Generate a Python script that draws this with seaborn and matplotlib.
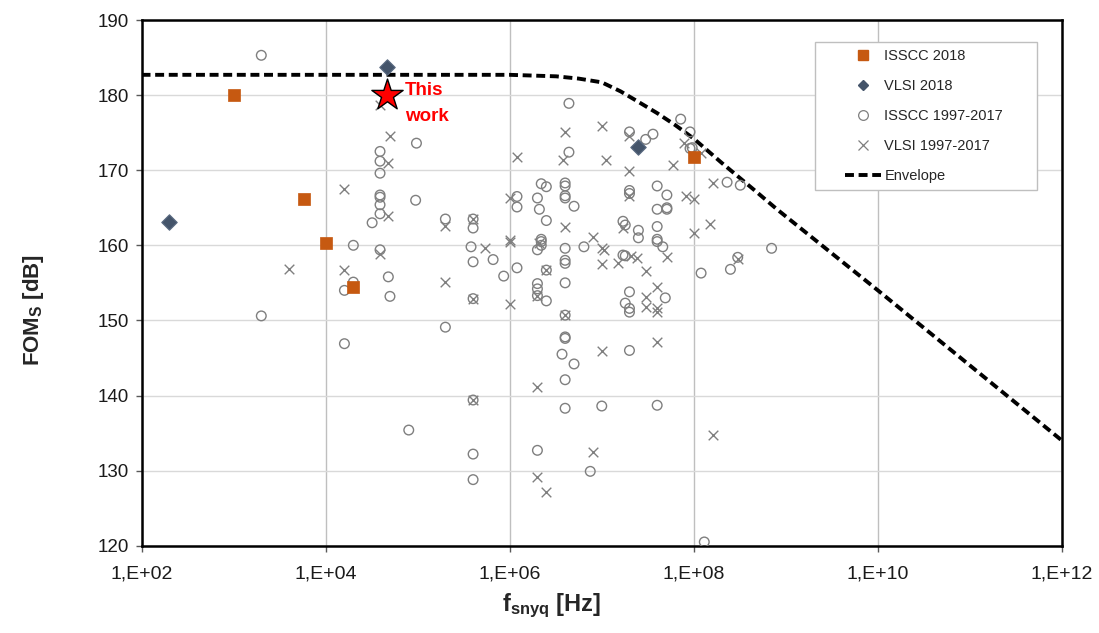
import numpy as np
import pandas as pd
import matplotlib
matplotlib.use("Agg")
import matplotlib.pyplot as plt
import seaborn as sns
from matplotlib.lines import Line2D
from matplotlib.patches import Rectangle
from matplotlib.ticker import FixedLocator, FuncFormatter, NullLocator

# ---------------------------------------------------------------------------
# Data: Nyquist sampling frequency [Hz] and Schreier figure of merit [dB]
# ---------------------------------------------------------------------------
isscc_2018_f = [1.0e3, 5.8e3, 1.0e4, 2.0e4, 1.0e8]
isscc_2018_fom = [180.0, 166.2, 160.3, 154.4, 171.7]

vlsi_2018_f = [2.0e2, 4.7e4, 2.5e7]
vlsi_2018_fom = [163.1, 183.7, 173.1]

this_work_f = [4.6e4]
this_work_fom = [180.0]

isscc_old_f = [
    2.0e3, 9.7e4, 3.9e4, 3.9e4, 3.9e4, 3.9e4, 3.9e4, 3.9e4, 3.9e4, 9.5e4,
    3.2e4, 2.0e4, 3.9e4, 4.8e4, 2.0e4, 1.6e4, 5.0e4, 2.0e3, 1.6e4, 8.0e4,
    4.4e6, 4.4e6, 2.2e6, 2.5e6, 4.0e6, 4.0e6, 4.0e6, 4.0e6, 5.0e6, 1.2e6,
    1.2e6, 2.0e6, 2.1e6, 2.5e6, 2.0e5, 4.0e5, 4.0e5, 3.8e5, 4.0e5, 6.6e5,
    8.6e5, 1.2e6, 2.2e6, 2.2e6, 2.2e6, 2.0e6, 4.0e6, 4.0e6, 4.0e6, 6.4e6,
    2.0e6, 2.0e6, 2.0e6, 2.5e6, 4.0e6, 4.0e6, 2.0e5, 4.0e6, 4.0e6, 3.7e6,
    5.0e6, 4.0e6, 4.0e5, 4.0e6, 1.0e7, 4.0e5, 2.0e6, 4.0e5, 7.5e6, 4.0e5,
    2.5e6, 7.2e7, 2.0e7, 3.0e7, 3.6e7, 9.1e7, 9.1e7, 9.6e7, 2.0e7, 2.0e7,
    4.0e7, 5.1e7, 4.0e7, 5.1e7, 5.1e7, 1.7e7, 1.8e7, 2.5e7, 2.5e7, 4.0e7,
    4.0e7, 4.0e7, 4.6e7, 2.3e8, 3.2e8, 7.0e8, 3.0e8, 2.5e8, 1.2e8, 1.7e7,
    1.8e7, 2.0e7, 1.8e7, 2.0e7, 2.0e7, 4.9e7, 2.0e7, 4.0e7, 1.3e8,
]
isscc_old_fom = [
    185.3, 173.6, 172.5, 171.2, 169.6, 166.7, 166.4, 165.4, 164.2, 166.0,
    163.0, 160.0, 159.4, 155.8, 155.1, 154.0, 153.2, 150.6, 146.9, 135.4,
    178.9, 172.4, 168.2, 167.8, 168.3, 167.9, 166.6, 166.3, 165.2, 166.5,
    165.1, 166.3, 164.8, 163.3, 163.5, 163.5, 162.3, 159.8, 157.8, 158.1,
    155.9, 157.0, 160.8, 160.5, 160.0, 159.4, 159.6, 158.0, 157.6, 159.8,
    154.9, 154.2, 153.3, 152.6, 155.0, 150.7, 149.1, 147.8, 147.6, 145.5,
    144.2, 142.1, 139.4, 138.3, 138.6, 132.2, 132.7, 128.8, 129.9, 152.9,
    156.7, 176.8, 175.1, 174.1, 174.8, 175.1, 172.9, 173.0, 167.3, 166.9,
    167.9, 166.7, 164.8, 165.0, 164.8, 163.2, 162.7, 162.0, 161.0, 162.5,
    160.8, 160.5, 159.8, 168.4, 168.0, 159.6, 158.4, 156.8, 156.3, 158.7,
    158.6, 153.8, 152.3, 151.6, 151.1, 153.0, 146.0, 138.7, 120.5,
]

vlsi_old_f = [
    3.9e4, 5.0e4, 4.8e4, 1.6e4, 4.8e4, 3.9e4, 4.0e3, 1.6e4, 4.0e6, 1.0e7,
    3.8e6, 1.1e7, 1.2e6, 1.0e6, 4.0e6, 8.0e6, 2.0e5, 4.0e5, 1.0e6, 1.0e6,
    5.4e5, 2.1e6, 1.0e7, 1.05e7, 1.0e7, 2.0e5, 4.0e5, 1.0e6, 2.0e6, 4.0e6,
    1.0e7, 2.0e6, 4.0e5, 8.0e6, 2.0e6, 2.5e6, 2.5e6, 2.0e7, 7.8e7, 1.2e8,
    2.0e7, 6.0e7, 2.0e7, 8.2e7, 1.0e8, 1.6e8, 1.7e7, 5.1e7, 1.0e8, 1.5e8,
    3.0e8, 1.5e7, 2.1e7, 2.4e7, 3.0e7, 4.0e7, 3.0e7, 3.0e7, 4.0e7, 4.0e7,
    4.0e7, 1.6e8,
]
vlsi_old_fom = [
    178.7, 174.6, 170.9, 167.5, 163.9, 158.9, 156.9, 156.7, 175.1, 175.9,
    171.3, 171.3, 171.8, 166.3, 162.5, 161.1, 162.6, 163.5, 160.7, 160.5,
    159.6, 160.3, 159.6, 159.4, 157.5, 155.1, 152.9, 152.2, 153.2, 150.7,
    145.9, 141.1, 139.4, 132.5, 129.1, 127.2, 156.7, 174.5, 173.6, 172.3,
    169.9, 170.7, 166.5, 166.6, 166.2, 168.3, 162.3, 158.5, 161.6, 162.8,
    158.2, 157.6, 158.6, 158.3, 156.6, 154.5, 153.1, 151.8, 151.6, 151.1,
    147.1, 134.8,
]

envelope_f = [1e2, 1e4, 1e6, 3.2e6, 5.6e6, 1e7, 1.6e7, 2.5e7, 4e7, 6.3e7,
              1e8, 2e8, 4.5e8, 8e8, 1e10, 1e12]
envelope_fom = [182.7, 182.7, 182.7, 182.5, 182.2, 181.7, 180.5, 179.1, 177.6,
                176.0, 174.2, 171.0, 167.4, 164.8, 154.0, 134.0]

x_ticks = [1e2, 1e4, 1e6, 1e8, 1e10, 1e12]
y_ticks = [120, 130, 140, 150, 160, 170, 180, 190]

# ---------------------------------------------------------------------------
# Style
# ---------------------------------------------------------------------------
sns.set_theme(style="white")
plt.rcParams["font.family"] = ["Liberation Sans", "DejaVu Sans"]
plt.rcParams["mathtext.fontset"] = "custom"
plt.rcParams["mathtext.rm"] = "Liberation Sans"
plt.rcParams["mathtext.bf"] = "Liberation Sans:bold"
plt.rcParams["mathtext.it"] = "Liberation Sans:italic"

ORANGE = "#C65911"
SLATE = "#44546A"
GREY = "#7F7F7F"
ENV_DASH = (0, (2.3, 1.2))

fig = plt.figure(figsize=(10.99, 6.33), dpi=100)
ax = fig.add_axes([0.1288, 0.1379, 0.8375, 0.8305])
ax.set_xscale("log")

# Envelope
sns.lineplot(x=envelope_f, y=envelope_fom, ax=ax, color="black", lw=2.8,
             linestyle=ENV_DASH, sort=True, estimator=None, zorder=2)

# Older publications
sns.scatterplot(x=isscc_old_f, y=isscc_old_fom, ax=ax, marker="o", s=48,
                facecolor="none", edgecolor=GREY, linewidth=1.0, zorder=3)
sns.scatterplot(x=vlsi_old_f, y=vlsi_old_fom, ax=ax, marker="x", s=48,
                color=GREY, edgecolor=None, linewidth=1.0, zorder=3)

# 2018 publications
sns.scatterplot(x=isscc_2018_f, y=isscc_2018_fom, ax=ax, marker="s", s=80,
                color=ORANGE, edgecolor=ORANGE, linewidth=0.5, zorder=4)
sns.scatterplot(x=vlsi_2018_f, y=vlsi_2018_fom, ax=ax, marker="D", s=62,
                color=SLATE, edgecolor="#5B6B82", linewidth=0.8, zorder=4)

# This work
sns.scatterplot(x=this_work_f, y=this_work_fom, ax=ax, marker="*", s=560,
                color="#FF0000", edgecolor="black", linewidth=1.0, zorder=5)
ax.text(7.3e4, 180.6, "This", color="#FF0000", fontsize=13.5,
        fontweight="bold", ha="left", va="center", zorder=6)
ax.text(7.3e4, 177.2, "work", color="#FF0000", fontsize=13.5,
        fontweight="bold", ha="left", va="center", zorder=6)

# Axes, ticks and grid
ax.set_xlim(1e2, 1e12)
ax.set_ylim(120, 190)
ax.xaxis.set_major_locator(FixedLocator(x_ticks))
ax.xaxis.set_minor_locator(NullLocator())
ax.xaxis.set_major_formatter(
    FuncFormatter(lambda v, _: "1,E+{:02d}".format(int(round(np.log10(v))))))
ax.yaxis.set_major_locator(FixedLocator(y_ticks))
ax.tick_params(axis="both", which="major", labelsize=13.5, direction="out",
               length=4, width=1, color="#595959", pad=5, labelcolor="#1a1a1a")
ax.tick_params(axis="x", pad=10, labelsize=14)
ax.tick_params(left=True, bottom=True)

ax.set_axisbelow(True)
ax.yaxis.grid(True, color="#D9D9D9", lw=1.0)
ax.xaxis.grid(True, color="#BFBFBF", lw=1.0)

for sp in ax.spines.values():
    sp.set_visible(True)
    sp.set_color("black")
    sp.set_linewidth(1.8)

ax.set_xlabel(r"f$_\mathbf{snyq}$ [Hz]", fontsize=17, fontweight="bold")
ax.set_ylabel(r"FOM$_\mathbf{S}$ [dB]", fontsize=16, fontweight="bold")
ax.xaxis.set_label_coords(0.446, -0.088)
ax.yaxis.set_label_coords(-0.104, 0.448)

# Legend: white box with a light frame, entries placed inside it
ax.add_patch(Rectangle((0.7317, 0.6766), 0.2412, 0.2816,
                       transform=ax.transAxes, facecolor="white",
                       edgecolor="#BFBFBF", lw=1.0, zorder=6))
handles = [
    Line2D([], [], ls="none", marker="s", markersize=7, color=ORANGE),
    Line2D([], [], ls="none", marker="D", markersize=5, color=SLATE),
    Line2D([], [], ls="none", marker="o", markersize=7, mfc="none",
           mec=GREY, mew=0.9),
    Line2D([], [], ls="none", marker="x", markersize=7, color=GREY, mew=0.9),
    Line2D([], [], color="black", lw=2.8, linestyle=ENV_DASH),
]
labels = ["ISSCC 2018", "VLSI 2018", "ISSCC 1997-2017", "VLSI 1997-2017",
          "Envelope"]
leg = ax.legend(handles, labels, loc="upper left",
                bbox_to_anchor=(0.7643, 0.9448), fontsize=10.5, frameon=False,
                borderpad=0.0, borderaxespad=0.0, labelspacing=1.1,
                handlelength=2.5, handletextpad=0.2)
leg.set_zorder(7)

fig.savefig("out.png", dpi=100)
